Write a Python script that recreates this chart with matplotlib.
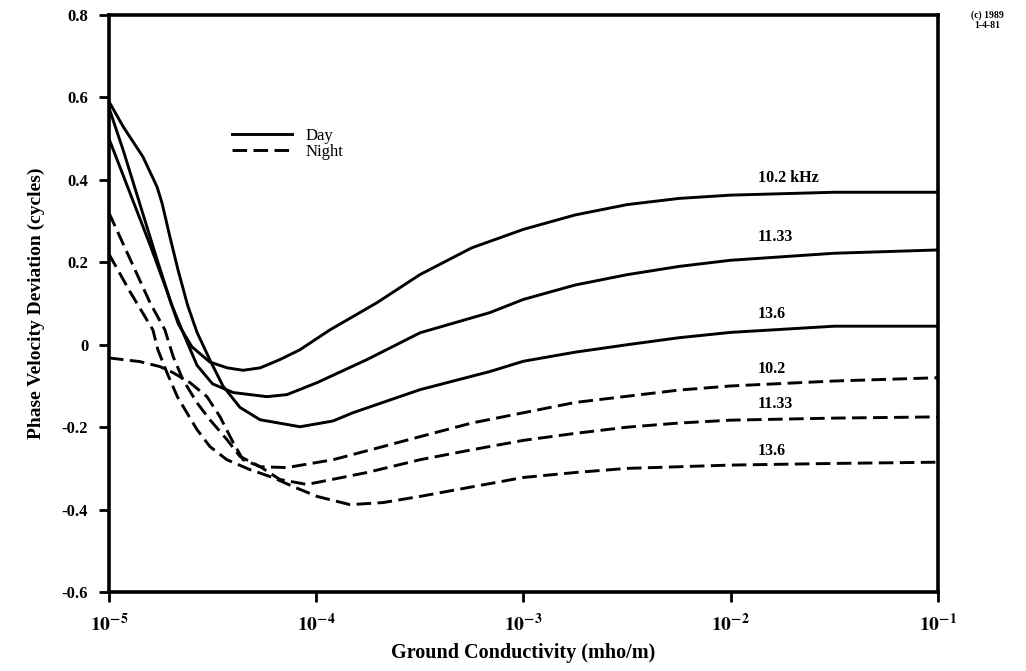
import numpy as np
import matplotlib
matplotlib.use('Agg')
import matplotlib.pyplot as plt

plt.rcParams['font.family'] = ['Liberation Serif', 'DejaVu Serif']
plt.rcParams['mathtext.fontset'] = 'stix'
plt.rcParams['axes.unicode_minus'] = False

# curves: log10(conductivity) and phase velocity deviation (cycles)
day_102_lx = [-5.0, -4.9, -4.8, -4.72, -4.665, -4.6, -4.513, -4.43, -4.353, -4.27, -4.175, -4.078,
              -3.934, -3.707, -3.5, -3.25, -3.0, -2.75, -2.5, -2.25, -2.0, -1.5, -1.0]
day_102_y = [0.50, 0.37, 0.24, 0.13, 0.05, -0.005, -0.042, -0.056, -0.062, -0.056, -0.036, -0.012,
             0.036, 0.102, 0.17, 0.235, 0.28, 0.315, 0.34, 0.355, 0.363, 0.37, 0.37]

day_1133_lx = [-5.0, -4.93, -4.85, -4.77, -4.70, -4.648, -4.575, -4.50, -4.40, -4.238, -4.141, -3.996,
               -3.755, -3.499, -3.162, -3.0, -2.75, -2.5, -2.25, -2.0, -1.5, -1.0]
day_1133_y = [0.575, 0.47, 0.34, 0.21, 0.10, 0.036, -0.05, -0.095, -0.116, -0.126, -0.121, -0.092,
              -0.036, 0.029, 0.078, 0.11, 0.145, 0.17, 0.19, 0.205, 0.222, 0.23]

day_136_lx = [-5.0, -4.93, -4.836, -4.768, -4.744, -4.706, -4.667, -4.62, -4.575, -4.51, -4.45, -4.368,
              -4.271, -4.078, -3.919, -3.823, -3.499, -3.162, -3.0, -2.75, -2.5, -2.25, -2.0, -1.5, -1.0]
day_136_y = [0.59, 0.528, 0.456, 0.383, 0.344, 0.262, 0.182, 0.095, 0.03, -0.04, -0.1, -0.152,
             -0.182, -0.199, -0.185, -0.165, -0.109, -0.065, -0.04, -0.018, 0.0, 0.017, 0.03, 0.045, 0.045]

night_102_lx = [-5.0, -4.85, -4.754, -4.69, -4.609, -4.527, -4.464, -4.40, -4.353, -4.27, -4.141, -3.919,
                -3.7, -3.499, -3.25, -3.0, -2.75, -2.5, -2.25, -2.0, -1.5, -1.0]
night_102_y = [-0.032, -0.041, -0.053, -0.068, -0.092, -0.126, -0.175, -0.238, -0.279, -0.296, -0.298, -0.279,
               -0.25, -0.223, -0.19, -0.165, -0.14, -0.125, -0.11, -0.1, -0.088, -0.08]

night_1133_lx = [-5.0, -4.9, -4.8, -4.73, -4.69, -4.643, -4.575, -4.513, -4.431, -4.368, -4.27, -4.175,
                 -4.045, -3.755, -3.499, -3.25, -3.0, -2.75, -2.5, -2.25, -2.0, -1.5, -1.0]
night_1133_y = [0.32, 0.21, 0.10, 0.036, -0.029, -0.085, -0.141, -0.182, -0.23, -0.271, -0.296, -0.327,
                -0.339, -0.31, -0.279, -0.255, -0.232, -0.215, -0.2, -0.19, -0.183, -0.178, -0.175]

night_136_lx = [-5.0, -4.9, -4.788, -4.764, -4.72, -4.67, -4.624, -4.575, -4.513, -4.431, -4.32, -4.21,
                -4.112, -3.996, -3.837, -3.678, -3.499, -3.25, -3.0, -2.75, -2.5, -2.0, -1.5, -1.0]
night_136_y = [0.22, 0.13, 0.036, -0.012, -0.068, -0.126, -0.165, -0.206, -0.247, -0.279, -0.303, -0.322,
               -0.344, -0.368, -0.388, -0.383, -0.368, -0.345, -0.322, -0.31, -0.30, -0.292, -0.288, -0.285]

curve_labels = ['10.2 kHz', '11.33', '13.6', '10.2', '11.33', '13.6']
label_y = [0.405, 0.262, 0.075, -0.058, -0.143, -0.257]

xticks = [1e-5, 1e-4, 1e-3, 1e-2, 1e-1]
xticklabels = [r'$\mathbf{10^{-5}}$', r'$\mathbf{10^{-4}}$', r'$\mathbf{10^{-3}}$',
               r'$\mathbf{10^{-2}}$', r'$\mathbf{10^{-1}}$']
yticks = [0.8, 0.6, 0.4, 0.2, 0, -0.2, -0.4, -0.6]
yticklabels = ['0.8', '0.6', '0.4', '0.2', '0', '-0.2', '-0.4', '-0.6']

fig = plt.figure(figsize=(10.26, 6.71), dpi=100)
ax = fig.add_axes([0.1062, 0.1177, 0.808, 0.8599])

lw = 2.1
day = [(day_102_lx, day_102_y), (day_1133_lx, day_1133_y), (day_136_lx, day_136_y)]
night = [(night_102_lx, night_102_y), (night_1133_lx, night_1133_y), (night_136_lx, night_136_y)]
for i, (lx, y) in enumerate(day):
    ax.plot(10.0 ** np.array(lx), y, color='black', lw=lw, solid_joinstyle='round',
            label='Day' if i == 0 else None)
for i, (lx, y) in enumerate(night):
    ax.plot(10.0 ** np.array(lx), y, color='black', lw=lw, linestyle=(0, (5, 2.2)),
            label='Night' if i == 0 else None)

for text, yy in zip(curve_labels, label_y):
    ax.text(10 ** -1.87, yy, text, fontsize=11.5, fontweight='bold', ha='left', va='center')

ax.set_xscale('log')
ax.set_xlim(1e-5, 1e-1)
ax.set_ylim(-0.6, 0.8)
ax.set_xticks(xticks)
ax.set_xticklabels(xticklabels, fontsize=14)
ax.minorticks_off()
ax.set_yticks(yticks)
ax.set_yticklabels(yticklabels, fontsize=12, fontweight='bold')
ax.tick_params(axis='both', direction='out', length=7, width=2)
ax.tick_params(axis='x', pad=8)
ax.tick_params(axis='y', pad=8)
for s in ax.spines.values():
    s.set_linewidth(2.6)

ax.set_xlabel('Ground Conductivity (mho/m)', fontsize=14.5, fontweight='bold', labelpad=6)
ax.set_ylabel('Phase Velocity Deviation (cycles)', fontsize=14, fontweight='bold', labelpad=12)

ax.legend(loc='upper left', bbox_to_anchor=(0.13, 0.83), frameon=False, fontsize=12,
          handlelength=3.6, labelspacing=0.0, handletextpad=0.8)

fig.text(0.962, 0.985, '(c) 1989\n1-4-81', fontsize=7, fontweight='bold', ha='center', va='top')

fig.savefig('out.png', dpi=100)
